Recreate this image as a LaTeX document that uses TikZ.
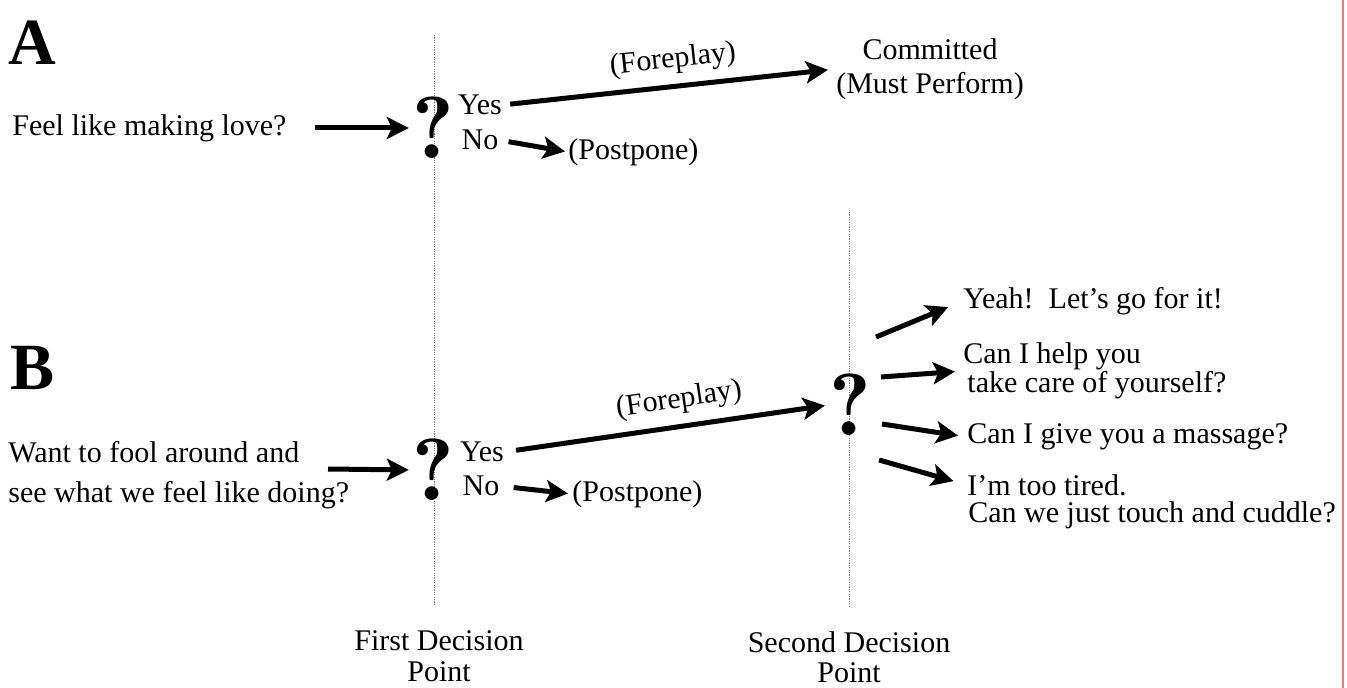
\documentclass[tikz,border=0pt]{standalone}
\usepackage{fontspec}
\setmainfont{Liberation Serif}
\newfontfamily\qfont{lmromandemi10-regular.otf}
\usetikzlibrary{arrows.meta,positioning,calc}
\definecolor{edgered}{RGB}{236,120,120}

\begin{document}
\begin{tikzpicture}[
    x=0.5pt, y=-0.5pt,
    every node/.style={font=\fontsize{15}{17}\selectfont, inner sep=0pt},
    txt/.style={anchor=west},
    panel/.style={anchor=west, font=\bfseries\fontsize{33}{36}\selectfont},
    qmark/.style={font=\qfont\fontsize{44}{46}\selectfont},
    arr/.style={-{Stealth[length=11pt,width=11pt,inset=2.5pt]}, line width=2.5pt},
    guide/.style={gray, line width=0.5pt, dash pattern=on 0.6pt off 0.6pt}
  ]
    \useasboundingbox (0,0) rectangle (1347,688);
    \draw[edgered, line width=0.6pt] (1343,0) -- (1343,688);

    \draw[guide] (434,35) -- (434,605);
    \draw[guide] (849,212) -- (849,607);

    % panel A
    \node[panel] (labA) at (8,43) {A};
    \node[txt] (feel) at (12,128) {Feel like making love?};
    \node[qmark] (qA) at (433,128) {?};
    \node (yesA) at (480,105) {Yes};
    \node (noA) at (480,140) {No};
    \node[txt] (postA) at (568,152) {(Postpone)};
    \node[align=center] (commit) at (930,69) {Committed\\(Must Perform)};
    \draw[arr, shorten <=14pt, shorten >=1.5pt] (feel.east) -- (qA.west);
    \draw[arr, shorten <=4pt, shorten >=4pt] (yesA.east) -- (commit.west)
      node[pos=0.52, above=5pt, sloped] (foreA) {(Foreplay)};
    \draw[arr, shorten <=5pt, shorten >=1.5pt] (noA.east) -- (postA.west);

    % panel B
    \node[panel] (labB) at (10,368) {B};
    \node[txt, align=left, font=\fontsize{15}{20}\selectfont] (want) at (8,475) {Want to fool around and\\see what we feel like doing?};
    \coordinate (inB) at (328,469);
    \node[qmark] (qB) at (433,470) {?};
    \node (yesB) at (482,452) {Yes};
    \node (noB) at (481,486) {No};
    \node[txt] (postB) at (572,494) {(Postpone)};
    \node[qmark] (q2) at (850,405) {?};
    \draw[arr, shorten >=1.5pt] (inB) -- (qB.west);
    \draw[arr, shorten <=6pt, shorten >=2pt] (yesB.east) -- (q2.west)
      node[pos=0.55, above=5pt, sloped] (foreB) {(Foreplay)};
    \draw[arr, shorten <=7pt, shorten >=2pt] (noB.east) -- (postB.west);

    \node[txt] (yeah) at (963,301) {Yeah!\ \ Let's go for it!};
    \node[txt, align=left, font=\fontsize{15}{14.5}\selectfont] (help) at (963,371) {Can I help you\\\hspace{2pt}take care of yourself?};
    \node[txt] (massage) at (967,437) {Can I give you a massage?};
    \node[txt] (tired) at (967,485) {I'm too tired.};
    \node[txt] (cuddle) at (968,515) {Can we just touch and cuddle?};
    \coordinate (s1) at (876,337);
    \coordinate (s2) at (881,377);
    \coordinate (s3) at (882,424);
    \coordinate (s4) at (879,460);
    \draw[arr, shorten >=8pt] (s1) -- (yeah.west);
    \draw[arr, shorten >=4pt] (s2) -- (help.west);
    \draw[arr, shorten >=4.5pt] (s3) -- (massage.west);
    \draw[arr, shorten >=7pt] (s4) -- (tired.west);

    \node[align=center, font=\fontsize{15}{15.5}\selectfont] (first) at (439,656) {First Decision\\Point};
    \node[align=center, font=\fontsize{15}{15}\selectfont] (second) at (849,657) {Second Decision\\Point};
  \end{tikzpicture}
\end{document}
